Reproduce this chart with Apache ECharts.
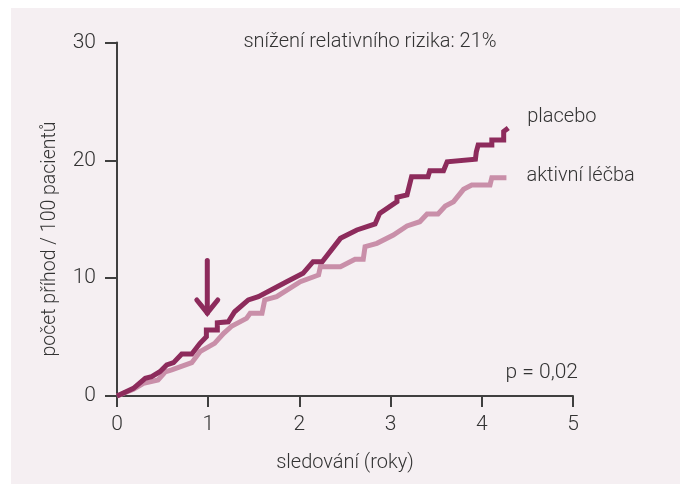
<!DOCTYPE html>
<html>
<head>
<meta charset="utf-8">
<script src="https://cdn.jsdelivr.net/npm/echarts@6/dist/echarts.min.js"></script>
<style>
html,body{margin:0;padding:0;background:#fff;}
#c{width:680px;height:484px;}
</style>
</head>
<body>
<div id="c"></div>
<script>
var xTicks = [0, 1, 2, 3, 4, 5];
var yTicks = [0, 10, 20, 30];
var titleText = 'snížení relativního rizika: 21%';
var pText = 'p = 0,02';
var xName = 'sledování (roky)';
var yName = 'počet příhod / 100 pacientů';
var seriesNames = ['placebo', 'aktivní léčba'];

var placebo = [
  [0, 0], [0.18, 0.65], [0.31, 1.5], [0.38, 1.64], [0.47, 2.06], [0.545, 2.63],
  [0.62, 2.83], [0.71, 3.56], [0.82, 3.56], [0.91, 4.47], [0.98, 5.03], [0.98, 5.6],
  [1.10, 5.6], [1.10, 6.22], [1.22, 6.3], [1.29, 7.15], [1.44, 8.15], [1.55, 8.43],
  [1.86, 9.7], [2.04, 10.41], [2.15, 11.4], [2.25, 11.4], [2.45, 13.38], [2.63, 14.09],
  [2.83, 14.6], [2.88, 15.5], [3.07, 16.49], [3.07, 16.86], [3.18, 17.06], [3.23, 18.61],
  [3.41, 18.61], [3.43, 19.12], [3.58, 19.12], [3.62, 19.88], [3.93, 20.09], [3.94, 20.73],
  [3.96, 21.3], [4.11, 21.3], [4.11, 21.73], [4.24, 21.73], [4.24, 22.45], [4.29, 22.75]
];

var aktivni = [
  [0, 0], [0.18, 0.57], [0.29, 1.08], [0.45, 1.36], [0.53, 2.06], [0.60, 2.21],
  [0.82, 2.83], [0.91, 3.76], [1.07, 4.47], [1.17, 5.32], [1.26, 5.94], [1.42, 6.59],
  [1.46, 7.02], [1.59, 7.02], [1.62, 8.15], [1.75, 8.43], [2.01, 9.7], [2.21, 10.27],
  [2.23, 10.97], [2.45, 10.97], [2.61, 11.6], [2.70, 11.6], [2.72, 12.67], [2.85, 12.96],
  [3.03, 13.66], [3.18, 14.43], [3.32, 14.79], [3.40, 15.45], [3.52, 15.45], [3.60, 16.12],
  [3.69, 16.49], [3.80, 17.54], [3.89, 17.91], [4.09, 17.91], [4.11, 18.53], [4.27, 18.53]
];

// arrow annotation (data units): x, top, tip, wing height, wing half-width
var arrowAt = { x: 0.99, top: 11.5, tip: 7.05, wing: 8.15, half: 0.115 };

var darkC = '#8d2b5c';
var lightC = '#c98fa9';
var textC = '#333333';
var axisC = '#3f3f3f';
var FONT = 'Roboto, "Liberation Sans", Arial, sans-serif';
var FW = 300;

var chart = echarts.init(document.getElementById('c'), null, { renderer: 'canvas' });

var option = {
  backgroundColor: '#ffffff',
  animation: false,
  textStyle: { fontFamily: FONT, fontWeight: FW },
  grid: { left: 117, right: 107, top: 42.5, bottom: 88 },
  xAxis: {
    type: 'value', min: 0, max: 5, interval: 1,
    name: xName, nameLocation: 'middle', nameGap: 57,
    nameTextStyle: { color: textC, fontSize: 20, fontFamily: FONT, fontWeight: FW },
    axisLine: { show: true, lineStyle: { color: axisC, width: 2 } },
    axisTick: { show: true, length: 11, lineStyle: { color: axisC, width: 2 } },
    axisLabel: { color: textC, fontSize: 21, margin: 18, fontFamily: FONT, fontWeight: FW,
      formatter: function (v) { return xTicks.indexOf(v) >= 0 ? String(v) : ''; } },
    splitLine: { show: false }
  },
  yAxis: {
    type: 'value', min: 0, max: 30, interval: 10,
    axisLine: { show: true, lineStyle: { color: axisC, width: 2 } },
    axisTick: { show: true, length: 12, lineStyle: { color: axisC, width: 2 } },
    axisLabel: { color: textC, fontSize: 21, margin: 21, fontFamily: FONT, fontWeight: FW,
      formatter: function (v) { return yTicks.indexOf(v) >= 0 ? String(v) : ''; } },
    splitLine: { show: false }
  },
  series: [
    {
      name: seriesNames[1], type: 'line', data: aktivni, symbol: 'none', z: 2,
      lineStyle: { color: lightC, width: 5, join: 'miter', cap: 'butt' },
      endLabel: { show: true, formatter: seriesNames[1], color: textC, fontSize: 20, fontFamily: FONT, fontWeight: FW, distance: 20, offset: [0, -2] }
    },
    {
      name: seriesNames[0], type: 'line', data: placebo, symbol: 'none', z: 3,
      lineStyle: { color: darkC, width: 5, join: 'miter', cap: 'butt' },
      endLabel: { show: true, formatter: seriesNames[0], color: textC, fontSize: 20, fontFamily: FONT, fontWeight: FW, distance: 19, offset: [0, -11] }
    }
  ]
};
chart.setOption(option);

var g = [
  { type: 'rect', z: -10, silent: true, shape: { x: 11, y: 8, width: 669, height: 476 }, style: { fill: '#f5eff2' } },
  { type: 'text', z: 10, style: { text: titleText, x: 370, y: 42, align: 'center', verticalAlign: 'middle', fill: textC, fontSize: 20, fontFamily: FONT, fontWeight: FW } },
  { type: 'text', z: 10, style: { text: pText, x: 578, y: 373, align: 'right', verticalAlign: 'middle', fill: textC, fontSize: 21, fontFamily: FONT, fontWeight: FW } },
  { type: 'text', z: 10, x: 50, y: 239, rotation: Math.PI / 2, style: { text: yName, x: 0, y: 0, align: 'center', verticalAlign: 'middle', fill: textC, fontSize: 19.5, fontFamily: FONT, fontWeight: FW } }
];

var pTop = chart.convertToPixel({ gridIndex: 0 }, [arrowAt.x, arrowAt.top]);
var pTip = chart.convertToPixel({ gridIndex: 0 }, [arrowAt.x, arrowAt.tip]);
var pL = chart.convertToPixel({ gridIndex: 0 }, [arrowAt.x - arrowAt.half, arrowAt.wing]);
var pR = chart.convertToPixel({ gridIndex: 0 }, [arrowAt.x + arrowAt.half, arrowAt.wing]);
g.push({ type: 'polyline', z: 20, shape: { points: [pTop, pTip] }, style: { stroke: darkC, lineWidth: 5, lineCap: 'round', fill: null } });
g.push({ type: 'polyline', z: 20, shape: { points: [pL, pTip, pR] }, style: { stroke: darkC, lineWidth: 5, lineCap: 'round', lineJoin: 'miter', fill: null } });
chart.setOption({ graphic: g });
</script>
</body>
</html>
